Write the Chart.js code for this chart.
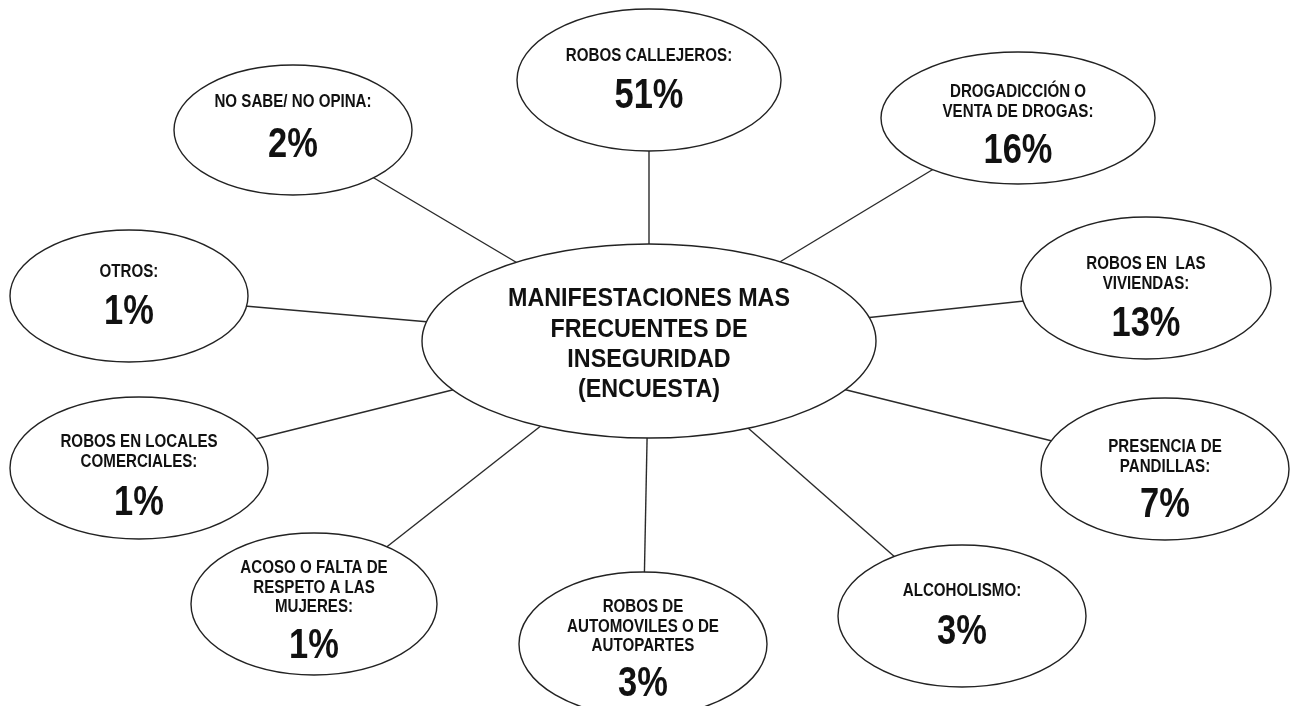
<!DOCTYPE html>
<html>
<head>
<meta charset="utf-8">
<title>Manifestaciones más frecuentes de inseguridad</title>
<script src="https://cdn.jsdelivr.net/npm/chart.js@4.4.1/dist/chart.umd.min.js"></script>
<style>
  html, body { margin: 0; padding: 0; background: #ffffff; }
  #wrap { width: 1291px; height: 706px; }
  canvas { display: block; }
</style>
</head>
<body>
<div id="wrap"><canvas id="c" width="1291" height="706"></canvas></div>
<script>
// ---------- DATA ----------
const categories = [
  'ROBOS CALLEJEROS:',
  'DROGADICCIÓN O\nVENTA DE DROGAS:',
  'ROBOS EN  LAS\nVIVIENDAS:',
  'PRESENCIA DE\nPANDILLAS:',
  'ALCOHOLISMO:',
  'ROBOS DE\nAUTOMOVILES O DE\nAUTOPARTES',
  'ACOSO O FALTA DE\nRESPETO A LAS\nMUJERES:',
  'ROBOS EN LOCALES\nCOMERCIALES:',
  'OTROS:',
  'NO SABE/ NO OPINA:'
];
const percentages = [51, 16, 13, 7, 3, 3, 1, 1, 1, 2];
const centralTitle = ['MANIFESTACIONES MAS', 'FRECUENTES DE', 'INSEGURIDAD', '(ENCUESTA)'];

// ---------- LAYOUT (diagram positions, in plot units) ----------
const nodeX   = [649, 1018, 1146, 1165, 962, 643, 314, 139, 129, 293];
const nodeY   = [80, 118, 288, 469, 616, 644, 604, 468, 296, 130];
const nodeRX  = [132, 137, 125, 124, 124, 124, 123, 129, 119, 119];
const nodeRY  = [71, 66, 71, 71, 71, 72, 71, 71, 66, 65];
const labelY  = [55, 91, 263, 446, 590, 606, 567, 441, 271, 101];
const pctY    = [93, 148, 321, 502, 629, 681, 643, 500, 309, 142];
const hubX = 649, hubY = 341, hubRX = 227, hubRY = 97;
const hubTextY = 297;

// ---------- STYLE ----------
const FONT = '"Liberation Sans", Arial, Helvetica, sans-serif';
const LABEL_SIZE = 18, LABEL_SX = 0.84, LABEL_LINE = 19.5;
const PCT_SIZE = 42, PCT_SX = 0.82;
const HUB_SIZE = 26.5, HUB_SX = 0.88, HUB_LINE = 30.3;
const INK = '#111111';

function drawCondensed(ctx, text, x, yCenter, size, sx) {
  ctx.save();
  ctx.font = 'bold ' + size + 'px ' + FONT;
  ctx.fillStyle = INK;
  ctx.textAlign = 'center';
  ctx.textBaseline = 'alphabetic';
  ctx.translate(x, yCenter + 0.358 * size);
  ctx.scale(sx, 1);
  ctx.fillText(text, 0, 0);
  ctx.restore();
}

function ellipse(ctx, cx, cy, rx, ry) {
  ctx.beginPath();
  ctx.ellipse(cx, cy, rx, ry, 0, 0, Math.PI * 2);
  ctx.fillStyle = '#ffffff';
  ctx.fill();
  ctx.lineWidth = 1.4;
  ctx.strokeStyle = '#222222';
  ctx.stroke();
}

const mindMap = {
  id: 'mindMap',
  beforeDraw(chart) {
    const ctx = chart.ctx;
    ctx.save();
    ctx.fillStyle = '#ffffff';
    ctx.fillRect(0, 0, chart.width, chart.height);
    ctx.restore();
  },
  beforeDatasetsDraw(chart) {
    const ctx = chart.ctx, xs = chart.scales.x, ys = chart.scales.y;
    const meta = chart.getDatasetMeta(0);
    const hx = xs.getPixelForValue(hubX), hy = ys.getPixelForValue(hubY);
    ctx.save();
    ctx.lineWidth = 1.4;
    ctx.strokeStyle = '#2a2a2a';
    meta.data.forEach(pt => {
      ctx.beginPath();
      ctx.moveTo(pt.x, pt.y);
      ctx.lineTo(hx, hy);
      ctx.stroke();
    });
    ctx.restore();
  },
  afterDatasetsDraw(chart) {
    const ctx = chart.ctx, xs = chart.scales.x, ys = chart.scales.y;
    const meta = chart.getDatasetMeta(0);
    // hub
    const hx = xs.getPixelForValue(hubX), hy = ys.getPixelForValue(hubY);
    ctx.save();
    ellipse(ctx, hx, hy,
      Math.abs(xs.getPixelForValue(hubX + hubRX) - hx),
      Math.abs(ys.getPixelForValue(hubY + hubRY) - hy));
    centralTitle.forEach((t, i) => {
      drawCondensed(ctx, t, hx, ys.getPixelForValue(hubTextY + i * HUB_LINE), HUB_SIZE, HUB_SX);
    });
    // nodes
    meta.data.forEach((pt, i) => {
      const rx = Math.abs(xs.getPixelForValue(nodeX[i] + nodeRX[i]) - pt.x);
      const ry = Math.abs(ys.getPixelForValue(nodeY[i] + nodeRY[i]) - pt.y);
      ellipse(ctx, pt.x, pt.y, rx, ry);
      const lines = categories[i].split('\n');
      lines.forEach((ln, j) => {
        drawCondensed(ctx, ln, pt.x, ys.getPixelForValue(labelY[i] + j * LABEL_LINE), LABEL_SIZE, LABEL_SX);
      });
      drawCondensed(ctx, percentages[i] + '%', pt.x, ys.getPixelForValue(pctY[i]), PCT_SIZE, PCT_SX);
    });
    ctx.restore();
  }
};

new Chart(document.getElementById('c'), {
  type: 'scatter',
  data: {
    labels: categories,
    datasets: [{
      label: 'Manifestaciones',
      data: categories.map((c, i) => ({ x: nodeX[i], y: nodeY[i], v: percentages[i] })),
      pointRadius: 0,
      pointHoverRadius: 0
    }]
  },
  options: {
    responsive: false,
    animation: false,
    events: [],
    layout: { padding: 0 },
    plugins: { legend: { display: false }, tooltip: { enabled: false }, title: { display: false } },
    scales: {
      x: { type: 'linear', min: 0, max: 1291, display: false },
      y: { type: 'linear', min: 0, max: 706, reverse: true, display: false }
    }
  },
  plugins: [mindMap]
});
</script>
</body>
</html>
